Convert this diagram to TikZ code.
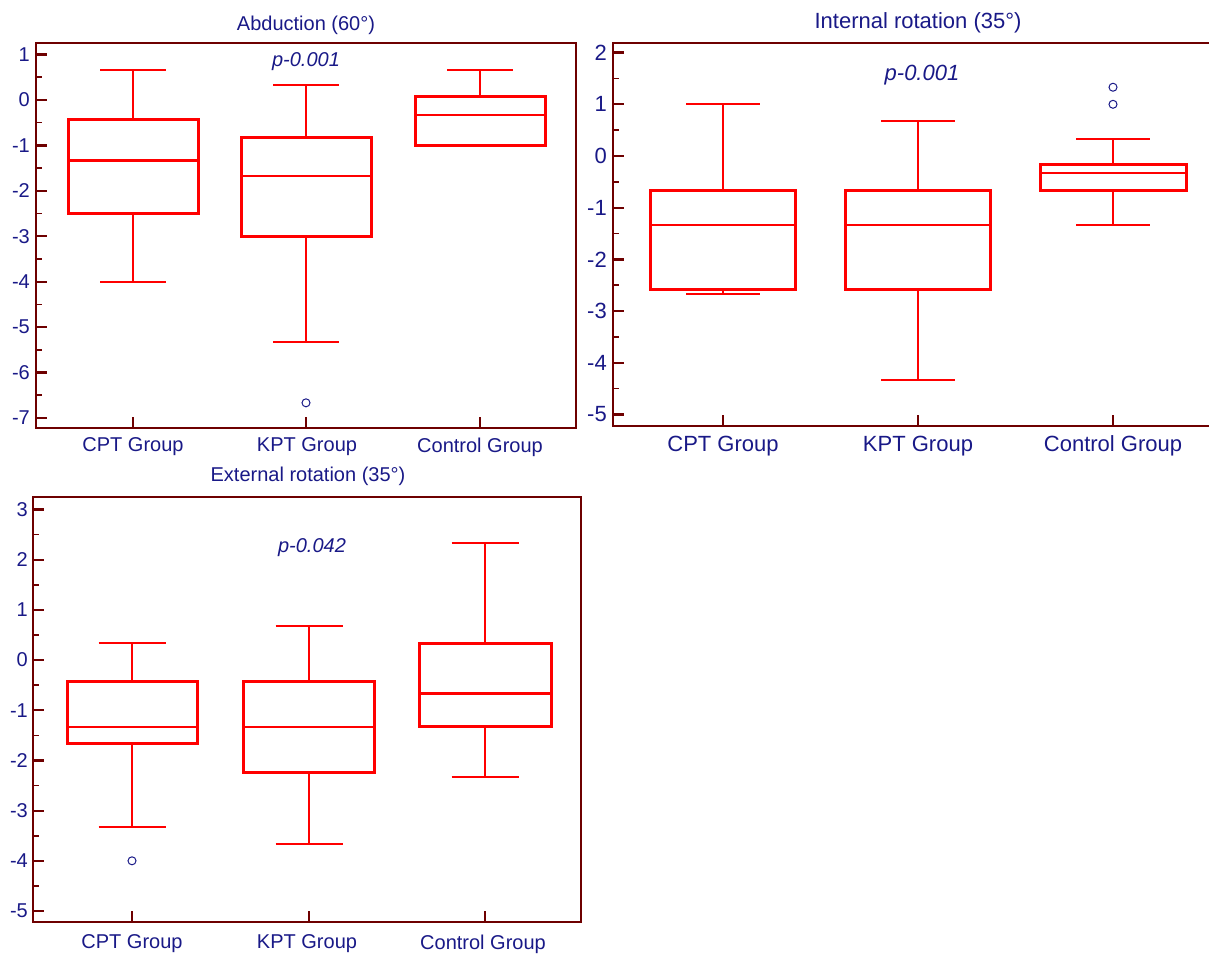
\documentclass[tikz,border=0pt]{standalone}
\usepackage{fontspec}
\setmainfont{Liberation Sans}
\usepackage{tikz}

\definecolor{framered}{RGB}{110,0,0}
\definecolor{labelblue}{RGB}{25,25,135}
\definecolor{boxred}{RGB}{255,0,0}

\newcommand{\plotsize}{\fontsize{20}{24}\selectfont}

\tikzset{
  axisframe/.style={draw=framered, line width=2pt},
  majortick/.style={draw=framered, line width=2.2pt},
  minortick/.style={draw=framered, line width=1.6pt},
  boxline/.style={draw=boxred, line width=3pt},
  medianline/.style={draw=boxred, line width=2.5pt},
  whisker/.style={draw=boxred, line width=2pt},
  ticklabel/.style={text=labelblue, anchor=east, inner sep=0pt, font=\plotsize},
  grouplabel/.style={text=labelblue, inner sep=0pt, font=\plotsize},
  plottitle/.style={text=labelblue, inner sep=0pt, font=\plotsize},
  pvalue/.style={text=labelblue, inner sep=0pt, font=\plotsize\itshape},
  outlier/.style={circle, draw=labelblue, line width=1pt, inner sep=0pt, minimum size=8pt}
}

% x, half box, half cap, low, q1, median, q3, high
\newcommand{\boxwhisk}[8]{%
  \draw[whisker] (#1,#4) -- (#1,#5);
  \draw[whisker] (#1,#7) -- (#1,#8);
  \draw[whisker] ({#1-#3},#4) -- ({#1+#3},#4);
  \draw[whisker] ({#1-#3},#8) -- ({#1+#3},#8);
  \draw[boxline] ({#1-#2},#5) rectangle ({#1+#2},#7);
  \draw[medianline] ({#1-#2},#6) -- ({#1+#2},#6);
}

\begin{document}
\begin{tikzpicture}[x=1pt, y=-1pt]
            \useasboundingbox (0,0) rectangle (1209,955);

            % Abduction
            \node[plottitle] (t1) at (306,25) {Abduction (60°)};
            \draw[axisframe] (36,43) rectangle (576,428);
            \begin{scope}[shift={(0,100)}, yscale=-45.4]
              \foreach \v in {-7,...,1} {
                \draw[majortick] (36,\v) -- (47,\v);
                \node[ticklabel] (ya\v) at (30,\v) {\v};
              }
              \foreach \v in {-6.5,-5.5,...,0.5}
                \draw[minortick] (36,\v) -- (42,\v);
              \boxwhisk{133}{65}{33}{-4}{-2.5}{-1.33}{-0.42}{0.67}
              \boxwhisk{306}{65}{33}{-5.33}{-3}{-1.67}{-0.83}{0.33}
              \boxwhisk{480}{65}{33}{-1}{-1}{-0.33}{0.07}{0.67}
              \node[outlier] (oa1) at (306,-6.67) {};
            \end{scope}
            \node[pvalue] (pa) at (306,62) {p-0.001};
            \foreach \x in {133,306,480}
              \draw[majortick] (\x,428) -- (\x,417);
            \node[grouplabel] (ga1) at (133,447) {CPT Group};
            \node[grouplabel] (ga2) at (307,447) {KPT Group};
            \node[grouplabel] (ga3) at (480,447) {Control Group};

            % Internal rotation
            \begin{scope}
            \renewcommand{\plotsize}{\fontsize{22}{26}\selectfont}
            \node[plottitle] (t2) at (918,23) {Internal rotation (35°)};
            \draw[axisframe] (613,43) rectangle (1214,426);
            \begin{scope}[shift={(0,156)}, yscale=-51.7]
              \foreach \v in {-5,...,2} {
                \draw[majortick] (613,\v) -- (624,\v);
                \node[ticklabel] (yb\v) at (607,\v) {\v};
              }
              \foreach \v in {-4.5,-3.5,...,1.5}
                \draw[minortick] (613,\v) -- (619,\v);
              \boxwhisk{723}{72.5}{37}{-2.67}{-2.58}{-1.33}{-0.67}{1}
              \boxwhisk{918}{72.5}{37}{-4.33}{-2.58}{-1.33}{-0.67}{0.67}
              \boxwhisk{1113}{73}{37}{-1.33}{-0.67}{-0.33}{-0.17}{0.33}
              \node[outlier] (ob1) at (1113,1) {};
              \node[outlier] (ob2) at (1113,1.33) {};
            \end{scope}
            \node[pvalue] (pb) at (922,75) {p-0.001};
            \foreach \x in {723,918,1113}
              \draw[majortick] (\x,426) -- (\x,415);
            \node[grouplabel] (gb1) at (723,446) {CPT Group};
            \node[grouplabel] (gb2) at (918,446) {KPT Group};
            \node[grouplabel] (gb3) at (1113,446) {Control Group};
            \end{scope}

            % External rotation
            \node[plottitle] (t3) at (308,476) {External rotation (35°)};
            \draw[axisframe] (33,497) rectangle (581,922);
            \begin{scope}[shift={(0,660)}, yscale=-50.2]
              \foreach \v in {-5,...,3} {
                \draw[majortick] (33,\v) -- (44,\v);
                \node[ticklabel] (yc\v) at (28,\v) {\v};
              }
              \foreach \v in {-4.5,-3.5,...,2.5}
                \draw[minortick] (33,\v) -- (39,\v);
              \boxwhisk{132}{65}{33.5}{-3.33}{-1.67}{-1.33}{-0.42}{0.33}
              \boxwhisk{309}{65.5}{33.5}{-3.67}{-2.25}{-1.33}{-0.42}{0.67}
              \boxwhisk{485}{66}{33.5}{-2.33}{-1.33}{-0.67}{0.33}{2.33}
              \node[outlier] (oc1) at (132,-4) {};
            \end{scope}
            \node[pvalue] (pc) at (312,548) {p-0.042};
            \foreach \x in {132,309,485}
              \draw[majortick] (\x,922) -- (\x,911);
            \node[grouplabel] (gc1) at (132,944) {CPT Group};
            \node[grouplabel] (gc2) at (307,944) {KPT Group};
            \node[grouplabel] (gc3) at (483,944) {Control Group};
        \end{tikzpicture}
\end{document}
